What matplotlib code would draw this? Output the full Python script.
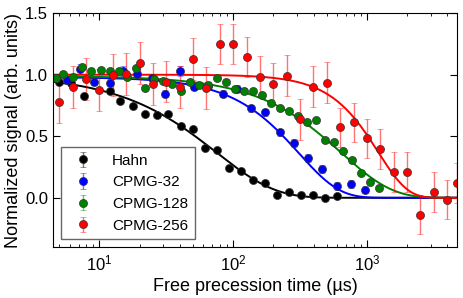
import numpy as np
import matplotlib
matplotlib.use("Agg")
import matplotlib.pyplot as plt

plt.rcParams['font.family'] = ['Liberation Sans', 'DejaVu Sans']
plt.rcParams['mathtext.default'] = 'regular'

# Hahn echo
hahn_t = [5.02, 6.18, 7.73, 11.9, 14.3, 17.9, 22.0, 27.1, 32.7, 40.9, 50.3, 61.8,
          76.0, 93.4, 115, 141, 173, 213, 262, 321, 395, 486, 597]
hahn_y = [0.94, 0.93, 0.823, 0.871, 0.790, 0.742, 0.677, 0.669, 0.677, 0.581, 0.556, 0.403,
          0.387, 0.242, 0.218, 0.145, 0.121, 0.024, 0.048, 0.024, 0.024, 0.0, 0.016]
hahn_err = [0.01] * len(hahn_t)

# CPMG-32
c32_t = [4.70, 5.68, 7.22, 9.18, 11.9, 15.1, 19.2, 24.9, 31.1, 40.2, 51.2, 65.1,
         84.2, 107, 136, 173, 224, 285, 363, 462, 597, 760, 967]
c32_y = [0.976, 0.960, 1.048, 0.944, 0.935, 1.032, 1.008, 0.976, 0.847, 1.032, 0.903, 0.911,
         0.847, 0.887, 0.726, 0.694, 0.532, 0.444, 0.323, 0.234, 0.097, 0.113, 0.065]
c32_err = [0.03, 0.03, 0.04, 0.03, 0.03, 0.04, 0.03, 0.03, 0.03, 0.04, 0.03, 0.03,
           0.03, 0.03, 0.03, 0.03, 0.03, 0.03, 0.03, 0.03, 0.03, 0.035, 0.03]

# CPMG-128
c128_t = [4.70, 5.38, 6.40, 7.47, 8.71, 10.2, 11.9, 13.9, 16.2, 18.9, 22.0, 25.7,
          30.0, 35.1, 40.9, 47.8, 55.7, 65.1, 76.0, 88.7, 104, 121, 141, 165,
          192, 224, 262, 305, 356, 416, 486, 567, 662, 773, 902, 1052, 1230]
c128_y = [0.976, 1.008, 0.984, 1.065, 1.032, 1.040, 1.032, 1.032, 0.984, 1.056, 0.895, 0.968,
          0.952, 0.927, 0.871, 0.944, 0.919, 0.919, 0.976, 0.944, 0.887, 0.871, 0.871, 0.831,
          0.766, 0.726, 0.702, 0.661, 0.613, 0.629, 0.468, 0.452, 0.379, 0.306, 0.202, 0.129, 0.081]
c128_err = [0.02] * len(c128_t)

# CPMG-256
c256_t = [5.01, 6.31, 7.94, 10.0, 12.6, 15.8, 20.0, 25.1, 31.6, 39.8, 50.1, 63.1,
          79.4, 100, 126, 158, 200, 251, 316, 398, 501, 631, 794, 1000,
          1259, 1585, 1995, 2512, 3162, 3981, 4700]
c256_y = [0.782, 0.903, 0.968, 0.879, 1.000, 1.008, 1.097, 0.927, 0.944, 0.903, 1.129, 0.895,
          1.25, 1.25, 1.145, 0.984, 0.927, 0.992, 0.637, 0.903, 0.935, 0.573, 0.613, 0.484,
          0.395, 0.21, 0.21, -0.137, 0.048, -0.016, 0.121]
c256_err = [0.175, 0.17, 0.17, 0.17, 0.17, 0.17, 0.17, 0.17, 0.17, 0.17, 0.17, 0.17,
            0.165, 0.165, 0.165, 0.165, 0.165, 0.165, 0.165, 0.165, 0.165, 0.16, 0.16, 0.16,
            0.16, 0.16, 0.16, 0.16, 0.16, 0.16, 0.16]

# stretched-exponential fit parameters (A, T2, n)
fits = {
    "Hahn": (1.0, 75.0, 1.0),
    "CPMG-32": (0.98, 311.0, 1.45),
    "CPMG-128": (0.99, 645.0, 1.15),
    "CPMG-256": (1.0, 1220.0, 2.0),
}

series = [
    ("Hahn", hahn_t, hahn_y, hahn_err, "k"),
    ("CPMG-32", c32_t, c32_y, c32_err, "#0000ff"),
    ("CPMG-128", c128_t, c128_y, c128_err, "#008000"),
    ("CPMG-256", c256_t, c256_y, c256_err, "#ff0000"),
]

fig = plt.figure(figsize=(4.63, 2.98), dpi=100)
ax = fig.add_subplot(111)
fig.subplots_adjust(left=0.1145, right=0.988, top=0.956, bottom=0.171)

tt = np.logspace(np.log10(4.5), np.log10(5000), 400)
handles = []
for name, t, y, e, c in series:
    h = ax.errorbar(t, y, yerr=e, fmt="o", color=c, ms=5.8, mec="#333333", mew=0.5,
                    ecolor=c, elinewidth=1.0, capsize=2.5, capthick=1.0,
                    label=name)
    for art in h[1]:
        art.set_alpha(0.55)
    for art in h[2]:
        art.set_alpha(0.55)
    A, T2, n = fits[name]
    ax.plot(tt, A * np.exp(-(tt / T2) ** n), color=c, lw=1.4)
    handles.append(h)

ax.set_xscale("log")
ax.set_xlim(4.5, 4750)
ax.set_ylim(-0.4, 1.5)
ax.set_yticks([0.0, 0.5, 1.0, 1.5])
ax.set_xlabel("Free precession time (µs)", fontsize=13, labelpad=3)
ax.set_ylabel("Normalized signal (arb. units)", fontsize=13, labelpad=2)
ax.tick_params(which="both", direction="in", top=True, right=True, labelsize=12)
ax.tick_params(axis="x", which="major", pad=5)
ax.tick_params(which="major", length=5)
ax.tick_params(which="minor", length=2.5)

leg = ax.legend(handles=handles, loc="lower left", fontsize=11, fancybox=False,
                edgecolor="0.4", framealpha=1, handletextpad=0.9, borderpad=0.45)
leg.get_frame().set_linewidth(1.0)

fig.savefig("out.png", dpi=100)
